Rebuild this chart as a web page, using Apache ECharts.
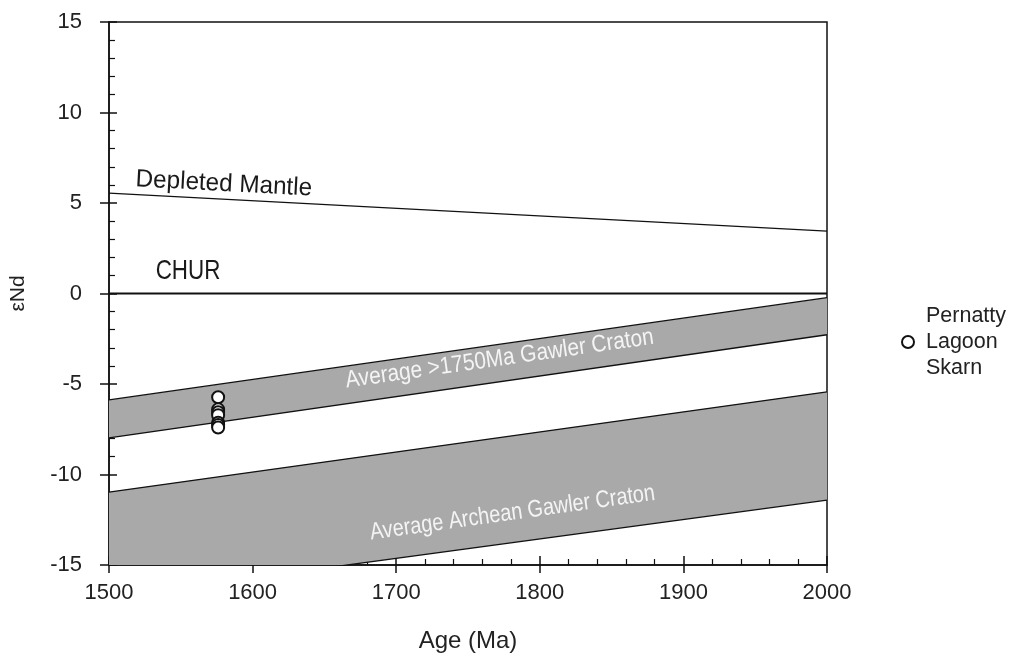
<!DOCTYPE html>
<html>
<head>
<meta charset="utf-8">
<script src="https://cdn.jsdelivr.net/npm/echarts@6/dist/echarts.min.js"></script>
<style>
  html, body { margin: 0; padding: 0; background: #ffffff; }
  #chart { width: 1011px; height: 659px; }
</style>
</head>
<body>
<div id="chart"></div>
<script>
// Age axis (Ma) and εNd axis ticks
const xTicks = [1500, 1600, 1700, 1800, 1900, 2000];
const yTicks = [-15, -10, -5, 0, 5, 10, 15];

// Reference evolution lines, sampled at the ends of the age range
const ages = [1500, 2000];
const depletedMantle = [5.55, 3.45];
const chur = [0, 0];
const gawler1750Top = [-5.88, -0.23];
const gawler1750Bottom = [-7.98, -2.28];
const archeanTop = [-10.97, -5.43];
const archeanBottom = [-16.78, -11.41];

// Pernatty Lagoon Skarn samples
const skarnAge = [1576, 1576, 1576, 1576, 1576, 1576, 1576];
const skarnEpsNd = [-5.73, -6.40, -6.56, -6.72, -7.14, -7.27, -7.40];

// Text annotations, each following the slope of a reference line
const annoText = ['Depleted Mantle', 'CHUR', 'Average >1750Ma Gawler Craton', 'Average Archean Gawler Craton'];
const annoAge = [1580, 1555, 1772, 1781];
const annoEps = [6.05, 1.24, -3.62, -12.13];
const annoLine = [depletedMantle, chur, gawler1750Top, archeanTop];

// Annotation styling: size, horizontal squeeze (condensed look) and colour
const FONT = '"Liberation Sans", Arial, sans-serif';
const annoSize = [25, 28, 24, 24];
const annoSqueeze = [0.97, 0.80, 0.87, 0.83];
const annoColor = ['#1a1a1a', '#1a1a1a', '#f4f4f4', '#f4f4f4'];

const ink = '#111111';
const textInk = '#222222';

function bandSeries(top, bottom) {
  return {
    type: 'custom',
    clip: true,
    silent: true,
    z: 1,
    data: [[0]],
    renderItem: function (params, api) {
      const pts = [];
      for (let i = 0; i < ages.length; i++) pts.push(api.coord([ages[i], top[i]]));
      for (let i = ages.length - 1; i >= 0; i--) pts.push(api.coord([ages[i], bottom[i]]));
      return { type: 'polygon', shape: { points: pts }, style: { fill: '#a9a9a9' } };
    }
  };
}

function edgeSeries(values, width) {
  return {
    type: 'line',
    silent: true,
    symbol: 'none',
    z: 3,
    data: ages.map((a, i) => [a, values[i]]),
    lineStyle: { color: ink, width: width }
  };
}

const xMin = xTicks[0], xMax = xTicks[xTicks.length - 1], xStep = xTicks[1] - xTicks[0];
const yMin = yTicks[0], yMax = yTicks[yTicks.length - 1], yStep = yTicks[1] - yTicks[0];

const chart = echarts.init(document.getElementById('chart'), null, { renderer: 'canvas' });

chart.setOption({
  animation: false,
  backgroundColor: '#ffffff',
  grid: {
    left: 109, right: 184, top: 22, bottom: 94,
    show: true, borderColor: ink, borderWidth: 1.5, backgroundColor: 'transparent'
  },
  legend: {
    left: 901, top: 303, padding: 0,
    itemWidth: 12, itemHeight: 12,
    selectedMode: false,
    data: ['Pernatty\nLagoon\nSkarn'],
    textStyle: { fontFamily: FONT, fontSize: 21.5, color: textInk, lineHeight: 26, padding: [0, 0, 0, 7] }
  },
  xAxis: [
    {
      type: 'value', min: xMin, max: xMax, interval: xStep, position: 'bottom',
      name: 'Age (Ma)', nameLocation: 'middle', nameGap: 64,
      nameTextStyle: { fontFamily: FONT, fontSize: 24, color: textInk },
      axisLine: { show: true, onZero: false, lineStyle: { color: ink, width: 1.5 } },
      axisTick: { show: true, inside: true, length: 9, lineStyle: { color: ink, width: 1.5 } },
      minorTick: { show: true, splitNumber: 5, length: 6, lineStyle: { color: ink, width: 1.2 } },
      axisLabel: { fontFamily: FONT, fontSize: 22, color: textInk, margin: 17, formatter: v => String(v) },
      splitLine: { show: false }
    },
    {
      type: 'value', min: xMin, max: xMax, interval: xStep, position: 'bottom',
      axisLine: { show: false, onZero: false },
      axisTick: { show: true, inside: false, length: 8, lineStyle: { color: ink, width: 1.5 } },
      axisLabel: { show: false },
      splitLine: { show: false }
    }
  ],
  yAxis: [
    {
      type: 'value', min: yMin, max: yMax, interval: yStep, position: 'left',
      name: 'εNd', nameLocation: 'middle', nameGap: 80,
      nameTextStyle: { fontFamily: FONT, fontSize: 21, color: textInk },
      axisLine: { show: true, onZero: false, lineStyle: { color: ink, width: 1.5 } },
      axisTick: { show: true, inside: true, length: 8, lineStyle: { color: ink, width: 1.5 } },
      minorTick: { show: true, splitNumber: 5, length: 6, lineStyle: { color: ink, width: 1.2 } },
      axisLabel: { fontFamily: FONT, fontSize: 22, color: textInk, margin: 27 },
      splitLine: { show: false }
    },
    {
      type: 'value', min: yMin, max: yMax, interval: yStep, position: 'left',
      axisLine: { show: false, onZero: false },
      axisTick: { show: true, inside: false, length: 9, lineStyle: { color: ink, width: 1.5 } },
      axisLabel: { show: false },
      splitLine: { show: false }
    }
  ],
  series: [
    bandSeries(gawler1750Top, gawler1750Bottom),
    bandSeries(archeanTop, archeanBottom),
    edgeSeries(gawler1750Top, 1.3),
    edgeSeries(gawler1750Bottom, 1.3),
    edgeSeries(archeanTop, 1.3),
    edgeSeries(archeanBottom, 1.3),
    edgeSeries(depletedMantle, 1.2),
    edgeSeries(chur, 1.8),
    {
      // anchors the outer tick axes to the same range
      type: 'scatter',
      xAxisIndex: 1, yAxisIndex: 1,
      silent: true, symbolSize: 0,
      data: [[xMin, yMin], [xMax, yMax]]
    },
    {
      type: 'custom',
      silent: true,
      z: 4,
      data: annoText.map((t, i) => [annoAge[i], annoEps[i], i]),
      renderItem: function (params, api) {
        const i = api.value(2);
        const line = annoLine[i];
        const p = api.coord([api.value(0), api.value(1)]);
        const a = api.coord([ages[0], line[0]]);
        const b = api.coord([ages[ages.length - 1], line[line.length - 1]]);
        const angle = Math.atan2(-(b[1] - a[1]), b[0] - a[0]);
        return {
          type: 'text',
          x: p[0], y: p[1], rotation: angle, scaleX: annoSqueeze[i],
          style: {
            text: annoText[i], x: 0, y: 0,
            align: 'center', verticalAlign: 'middle',
            font: annoSize[i] + 'px ' + FONT, fill: annoColor[i]
          }
        };
      }
    },
    {
      type: 'scatter',
      name: 'Pernatty\nLagoon\nSkarn',
      z: 5,
      symbol: 'circle',
      symbolSize: 12,
      itemStyle: { color: '#ffffff', borderColor: ink, borderWidth: 2, opacity: 1 },
      data: skarnAge.map((a, i) => [a, skarnEpsNd[i]])
    }
  ]
});
</script>
</body>
</html>
